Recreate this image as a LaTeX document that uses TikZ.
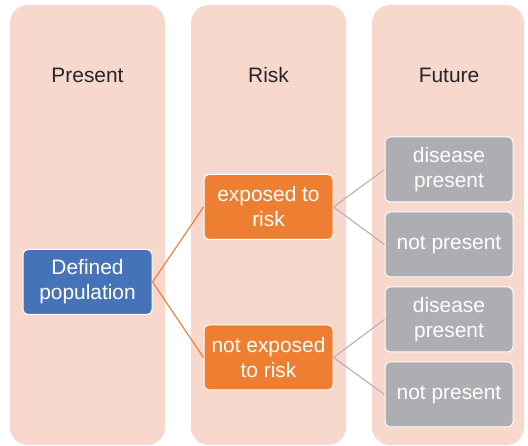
\documentclass[tikz,border=0pt]{standalone}
\usepackage{fontspec}
\setmainfont{Liberation Sans}
\definecolor{colbg}{HTML}{F8D7CD}
\definecolor{bluebox}{HTML}{4672BA}
\definecolor{orangebox}{HTML}{EE7E32}
\definecolor{graybox}{HTML}{ADAEB1}
\definecolor{headtxt}{HTML}{262626}
\definecolor{grayline}{HTML}{B3B3B3}
\begin{document}
\begin{tikzpicture}[x=1pt,y=-1pt,
  column/.style={fill=colbg, rounded corners=18pt},
  head/.style={font=\fontsize{20.9}{25}\selectfont, text=headtxt, anchor=center},
  boxbase/.style={draw=white, line width=1pt, rounded corners=5pt, text=white, align=center,
     font=\fontsize{20.9}{25}\selectfont, minimum width=129pt, minimum height=65pt, inner sep=0pt},
  bluest/.style={boxbase, fill=bluebox},
  orangest/.style={boxbase, fill=orangebox},
  grayst/.style={boxbase, fill=graybox, minimum width=128pt},
  oline/.style={draw=orangebox, line width=1.1pt},
  gline/.style={draw=grayline, line width=1.1pt}]
\useasboundingbox (0,0) rectangle (528,446);
\fill[white] (0,0) rectangle (528,446);
\path[column] (10,5) rectangle (165,445);
\path[column] (191,5) rectangle (346,445);
\path[column] (372,5) rectangle (524,445);
\node[head] (hp) at (87.5,75) {Present};
\node[head] (hr) at (268.5,75) {Risk};
\node[head] (hf) at (449,75) {Future};
\node[bluest] (pop) at (87.5,282) {Defined\\population};
\node[orangest] (exp) at (268.5,207) {exposed to\\risk};
\node[orangest] (nexp) at (268.5,357.5) {not exposed\\to risk};
\node[grayst] (d1) at (449,169.5) {disease\\present};
\node[grayst] (n1) at (449,244.5) {not present};
\node[grayst] (d2) at (449,319.5) {disease\\present};
\node[grayst] (n2) at (449,394.5) {not present};
\draw[oline] (pop.east) -- (exp.west);
\draw[oline] (pop.east) -- (nexp.west);
\draw[gline] (exp.east) -- (d1.west);
\draw[gline] (exp.east) -- (n1.west);
\draw[gline] (nexp.east) -- (d2.west);
\draw[gline] (nexp.east) -- (n2.west);
\end{tikzpicture}
\end{document}
